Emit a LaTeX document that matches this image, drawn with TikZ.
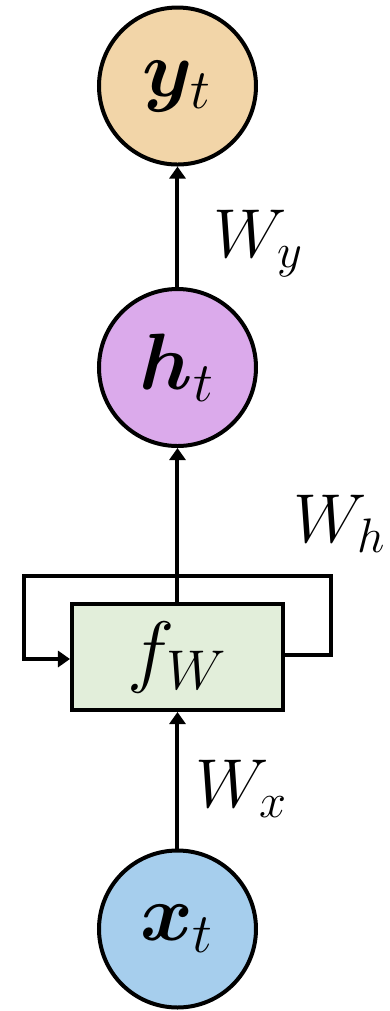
\RequirePackage{fix-cm}
\documentclass[tikz,border=0pt]{standalone}
\usepackage{bm}
\usetikzlibrary{arrows.meta}
\definecolor{ycol}{RGB}{242,213,168}
\definecolor{hcol}{RGB}{219,170,235}
\definecolor{xcol}{RGB}{166,206,237}
\definecolor{fcol}{RGB}{226,238,218}
\tikzset{
  unit/.style={circle,draw=black,line width=1pt,minimum size=39.25pt,inner sep=0pt,font=\fontsize{20}{24}\selectfont},
  fbox/.style={rectangle,draw=black,line width=1pt,fill=fcol,minimum width=52.75pt,minimum height=26.5pt,inner sep=0pt,font=\fontsize{20}{24}\selectfont},
  wlabel/.style={anchor=base west,inner sep=0pt,font=\fontsize{17.3}{20}\selectfont},
  conn/.style={line width=1pt,-{Triangle[length=3pt,width=4pt]}},
  plain/.style={line width=1pt}
}
\begin{document}
\begin{tikzpicture}[x=0.25pt,y=-0.25pt]
\useasboundingbox (0,0) rectangle (389,1011);
\node[unit,fill=ycol] (y) at (177.5,86) {$\bm{y}_t$};
\node[unit,fill=hcol] (h) at (177.5,367.5) {$\bm{h}_t$};
\node[fbox] (f) at (177.5,657) {$f_W$};
\node[unit,fill=xcol] (x) at (177.5,929) {$\bm{x}_t$};
\coordinate (r1) at (331,655);
\coordinate (r2) at (331,576);
\coordinate (l1) at (24,576);
\coordinate (l2) at (24,659);
\draw[conn] (x) -- (f);
\draw[conn] (f) -- (h);
\draw[conn] (h) -- (y);
\draw[conn,line join=miter] ([yshift=0.5pt]f.east) -- (r1) -- (r2) -- (l1) -- (l2) -- ([yshift=-0.5pt]f.west);
\node[wlabel] (wy) at (213,257) {$W_y$};
\node[wlabel] (wh) at (293,542) {$W_h$};
\node[wlabel] (wx) at (195,807) {$W_x$};
\end{tikzpicture}
\end{document}
